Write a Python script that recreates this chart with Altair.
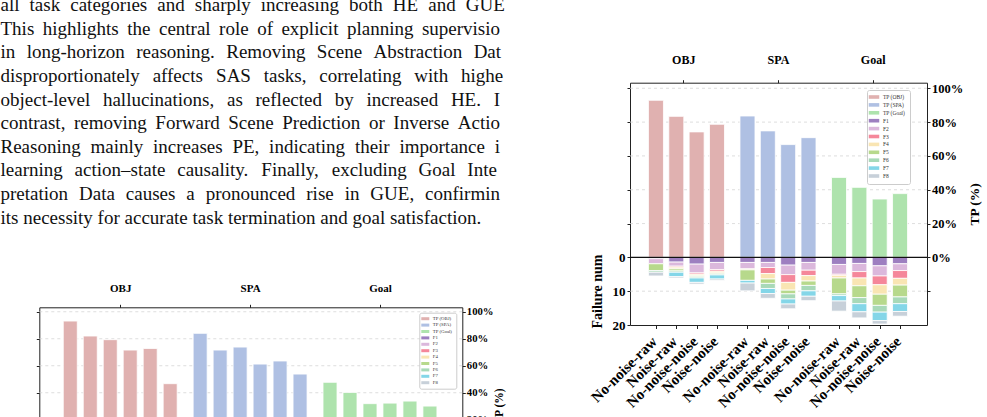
import altair as alt
import pandas as pd

# ---------------- data ----------------
para_lines = [
    "all task categories and sharply increasing both HE and GUE.",
    "This highlights the central role of explicit planning supervision",
    "in long-horizon reasoning. Removing Scene Abstraction Data",
    "disproportionately affects SAS tasks, correlating with higher",
    "object-level hallucinations, as reflected by increased HE. In",
    "contrast, removing Forward Scene Prediction or Inverse Action",
    "Reasoning mainly increases PE, indicating their importance in",
    "learning action\u2013state causality. Finally, excluding Goal Inter-",
    "pretation Data causes a pronounced rise in GUE, confirming",
    "its necessity for accurate task termination and goal satisfaction.",
]

groups = ["OBJ", "SPA", "Goal"]
conditions = ["No-noise-raw", "Noise-raw", "No-noise-noise", "Noise-noise"]
series = ["TP (OBJ)", "TP (SPA)", "TP (Goal)", "F1", "F2", "F3", "F4", "F5", "F6", "F7", "F8"]
series_colors = ["#e0b1b0", "#afc0e3", "#aee3ad", "#9d7fc0", "#dbb8dc", "#f5879a",
                 "#f9e5b3", "#b7d98c", "#a8d9b8", "#84d6e8", "#c7d0d9"]
fail_types = ["F1", "F2", "F3", "F4", "F5", "F6", "F7", "F8"]

# right figure: TP (%) per condition
tp_obj = [92.9, 83.4, 74.2, 78.7]
tp_spa = [83.6, 74.8, 66.7, 70.8]
tp_goal = [47.3, 41.4, 34.5, 37.7]
# right figure: failure counts F1..F8 per condition
fail_obj = [
    [0.4, 1.5, 0.0, 0.0, 2.0, 0.5, 0.0, 1.1],
    [1.4, 1.2, 0.3, 0.5, 0.6, 0.4, 1.3, 0.4],
    [2.0, 2.6, 0.4, 0.4, 0.35, 0.35, 1.3, 0.5],
    [1.5, 2.1, 0.5, 0.5, 0.3, 0.3, 1.2, 0.4],
]
fail_spa = [
    [1.5, 1.9, 0.0, 0.3, 3.1, 0.0, 0.8, 2.3],
    [1.5, 1.5, 1.8, 1.6, 1.3, 1.5, 1.5, 1.4],
    [2.3, 2.8, 2.3, 2.3, 1.1, 1.5, 1.5, 1.4],
    [1.5, 2.3, 1.6, 1.6, 1.3, 1.6, 1.6, 1.3],
]
fail_goal = [
    [2.1, 2.9, 0.3, 0.8, 4.7, 0.5, 1.6, 3.0],
    [1.8, 2.4, 1.9, 2.3, 3.5, 1.8, 2.4, 1.8],
    [2.5, 3.0, 2.6, 2.8, 3.3, 2.0, 2.5, 1.0],
    [1.9, 2.0, 2.3, 2.0, 3.5, 2.0, 2.3, 1.4],
]

# left (partially visible) figure: TP (%) of six settings per group
tp_obj_left = [93.1, 82.0, 79.3, 71.6, 72.8, 46.7]
tp_spa_left = [84.0, 71.6, 73.8, 61.2, 63.5, 53.8]
tp_goal_left = [47.7, 40.2, 31.9, 32.3, 33.8, 30.1]

tp_ticks = [100, 80, 60, 40, 20, 0]
fail_ticks = [0, 10, 20]

# ---------------- layout / style ----------------
W_ALL, H_ALL = 987, 417
SERIF = "Liberation Serif"
FAIL_SCALE = 2.0  # one failure = 2 TP-percent units on the shared vertical scale

# justified paragraph (Times metrics)
AFM = {' ': 250, 'a': 444, 'b': 500, 'c': 444, 'd': 500, 'e': 444, 'f': 333, 'g': 500, 'h': 500,
       'i': 278, 'j': 278, 'k': 500, 'l': 278, 'm': 778, 'n': 500, 'o': 500, 'p': 500, 'q': 500,
       'r': 333, 's': 389, 't': 278, 'u': 500, 'v': 500, 'w': 722, 'x': 500, 'y': 500, 'z': 444,
       'A': 722, 'B': 667, 'C': 667, 'D': 722, 'E': 611, 'F': 556, 'G': 722, 'H': 722, 'I': 333,
       'J': 389, 'K': 722, 'L': 611, 'M': 889, 'N': 722, 'O': 722, 'P': 556, 'Q': 722, 'R': 667,
       'S': 556, 'T': 611, 'U': 722, 'V': 722, 'W': 944, 'X': 722, 'Y': 722, 'Z': 611,
       '.': 250, ',': 250, '-': 333, '\u2013': 500, ':': 278, ';': 278, '(': 333, ')': 333}
FS = 19.0
X0, JW, CLIPX = 0.5, 509.0, 500.0


def cw(c):
    return AFM.get(c, 500) * FS / 1000.0


word_rows = []
for i, line in enumerate(para_lines):
    words = line.split(" ")
    widths = [sum(cw(c) for c in w) for w in words]
    if i == len(para_lines) - 1:
        gap = cw(' ')
    else:
        gap = (JW - sum(widths)) / (len(words) - 1)
    x = X0
    for w, wd in zip(words, widths):
        if x < CLIPX:
            s, cx = "", x
            for c in w:
                if cx + 0.5 * cw(c) > CLIPX:
                    break
                s += c
                cx += cw(c)
            if s:
                word_rows.append({"word": s, "px": x, "line": i})
        x += wd + gap
text_df = pd.DataFrame(word_rows)

text_layer = alt.Chart(text_df).mark_text(
    align="left", baseline="alphabetic", font=SERIF, fontSize=FS, color="#111111"
).encode(
    x=alt.X("px:Q", scale=alt.Scale(domain=[0, W_ALL], range=[0, W_ALL], nice=False, zero=False), axis=None),
    y=alt.Y("line:Q", scale=alt.Scale(domain=[0, 9], range=[11.2, 223.6], nice=False, zero=False), axis=None),
    text="word:N",
)

axis_style = dict(
    labelFont=SERIF, labelFontWeight="bold", labelColor="black",
    titleFont=SERIF, titleFontWeight="bold", titleColor="black",
    domainColor="#222222", tickColor="#222222", domainWidth=1, tickWidth=1, grid=False,
    labelOverlap=False,
)

# ---------------- right figure ----------------
R_X0, R_X1 = 630.0, 927.0
R_Y_TOP, R_Y_BOT = 82.7, 325.0
R_XDOM = [-1.03, 13.08]
R_YDOM = [-40.0, 103.3]
GROUP_STEP_R = 4.5

rx_scale = alt.Scale(domain=R_XDOM, range=[R_X0, R_X1], nice=False, zero=False)
ry_scale = alt.Scale(domain=R_YDOM, range=[R_Y_BOT, R_Y_TOP], nice=False, zero=False)

tp_right = {"OBJ": tp_obj, "SPA": tp_spa, "Goal": tp_goal}
fail_right = {"OBJ": fail_obj, "SPA": fail_spa, "Goal": fail_goal}
rows = []
pos_labels = {}
for g, grp in enumerate(groups):
    for j, cond in enumerate(conditions):
        pos = g * GROUP_STEP_R + j
        pos_labels[pos] = cond
        rows.append({"pos": pos, "y0": 0.0, "y1": tp_right[grp][j], "series": f"TP ({grp})"})
        cum = 0.0
        for k, ft in enumerate(fail_types):
            v = fail_right[grp][j][k]
            if v > 0:
                rows.append({"pos": pos, "y0": -FAIL_SCALE * cum, "y1": -FAIL_SCALE * (cum + v), "series": ft})
            cum += v
right_df = pd.DataFrame(rows)

bottom_expr = " : ".join(f"datum.value == {p} ? '{lab}'" for p, lab in pos_labels.items()) + " : ''"
group_centers_r = [g * GROUP_STEP_R + 1.5 for g in range(3)]
top_expr_r = " : ".join(f"datum.value == {p} ? '{lab}'" for p, lab in zip(group_centers_r, groups)) + " : ''"

left_vals = [v for v in tp_ticks if v > 0] + [-FAIL_SCALE * f for f in fail_ticks]

right_bars = alt.Chart(right_df).mark_bar(size=15, stroke="white", strokeWidth=0.8).encode(
    x=alt.X("pos:Q", scale=rx_scale, axis=alt.Axis(
        orient="bottom", offset=-(H_ALL - R_Y_BOT), values=list(pos_labels.keys()),
        labelExpr=bottom_expr, labelAngle=-45, labelAlign="right", labelBaseline="top",
        labelFontSize=15, tickSize=3.5, labelPadding=5, labelOffset=-7, title=None, **axis_style)),
    y=alt.Y("y0:Q", scale=ry_scale, axis=alt.Axis(
        orient="left", offset=-R_X0, values=left_vals,
        labelExpr=f"datum.value <= 0 ? format(-datum.value / {FAIL_SCALE}, 'd') : ''",
        labelFontSize=13, tickSize=3, labelPadding=2,
        title="Failure num", titleFontSize=14, titleY=291, titlePadding=8, **axis_style)),
    y2="y1:Q",
    color=alt.Color("series:N", scale=alt.Scale(domain=series, range=series_colors), legend=alt.Legend(
        title=None, orient="none", legendX=867, legendY=90, direction="vertical",
        symbolType="M-1.75,-0.6H1.75V0.6H-1.75Z", symbolSize=36, symbolStrokeWidth=0,
        labelFont=SERIF, labelFontSize=5.5, labelColor="#333333", labelOffset=6,
        rowPadding=0.9, padding=4, fillColor="white", strokeColor="#cccccc", cornerRadius=2)),
)

grid_r_vals = [v for v in tp_ticks if v > 0] + [-FAIL_SCALE * 10]
grid_r_df = pd.DataFrame({"gv": grid_r_vals})
right_grid = alt.Chart(grid_r_df).mark_rule(color="#d5d5d5", strokeWidth=0.8, strokeDash=[3, 3]).encode(
    x=alt.X(datum=R_XDOM[0], type="quantitative", scale=rx_scale, axis=None),
    x2=alt.X2(datum=R_XDOM[1]),
    y=alt.Y("gv:Q", scale=ry_scale, axis=alt.Axis(
        orient="right", offset=-(W_ALL - R_X1), values=tp_ticks + [-FAIL_SCALE * 10],
        labelExpr="datum.value >= 0 ? datum.value + '%' : ''",
        labelFontSize=12.5, tickSize=3, labelPadding=1.5,
        title="TP (%)", titleAngle=270, titleBaseline="top", titleFontSize=13.5, titlePadding=5,
        **axis_style)),
)

zero_df = pd.DataFrame({"zv": [0.0]})
right_zero = alt.Chart(zero_df).mark_rule(color="#111111", strokeWidth=1.4).encode(
    x=alt.X(datum=R_XDOM[0], type="quantitative", scale=rx_scale, axis=alt.Axis(
        orient="top", offset=-R_Y_TOP, values=group_centers_r, labelExpr=top_expr_r,
        labelFontSize=12, tickSize=3, labelPadding=13, title=None, **axis_style)),
    x2=alt.X2(datum=R_XDOM[1]),
    y=alt.Y("zv:Q", scale=ry_scale, axis=None),
)

# ---------------- left (cropped) figure ----------------
L_X0, L_X1 = 39.3, 462.3
L_Y_TOP, L_Y_ZERO = 307.3, 446.7
L_XDOM = [-1.3, 19.37]
L_YDOM = [0.0, 103.3]
GROUP_STEP_L = 6.5

lx_scale = alt.Scale(domain=L_XDOM, range=[L_X0, L_X1], nice=False, zero=False)
ly_scale = alt.Scale(domain=L_YDOM, range=[L_Y_ZERO, L_Y_TOP], nice=False, zero=False)

tp_left = {"OBJ": tp_obj_left, "SPA": tp_spa_left, "Goal": tp_goal_left}
lrows = []
for g, grp in enumerate(groups):
    for j, v in enumerate(tp_left[grp]):
        lrows.append({"pos": g * GROUP_STEP_L + j, "y0": 0.0, "y1": v, "series": f"TP ({grp})"})
left_df = pd.DataFrame(lrows)
group_centers_l = [g * GROUP_STEP_L + 2.5 for g in range(3)]
top_expr_l = " : ".join(f"datum.value == {p} ? '{lab}'" for p, lab in zip(group_centers_l, groups)) + " : ''"

left_bars = alt.Chart(left_df).mark_bar(size=14, stroke="white", strokeWidth=0.8).encode(
    x=alt.X("pos:Q", scale=lx_scale, axis=alt.Axis(
        orient="top", offset=-L_Y_TOP, values=group_centers_l, labelExpr=top_expr_l,
        labelFontSize=11, tickSize=3, labelPadding=10.5, title=None, **axis_style)),
    y=alt.Y("y0:Q", scale=ly_scale, axis=alt.Axis(
        orient="left", offset=-L_X0, values=tp_ticks, labels=False, tickSize=3, title=None, **axis_style)),
    y2="y1:Q",
    color=alt.Color("series:N", scale=alt.Scale(domain=series, range=series_colors), legend=alt.Legend(
        title=None, orient="none", legendX=419.3, legendY=312.7, direction="vertical",
        symbolType="M-1.6,-0.6H1.6V0.6H-1.6Z", symbolSize=25, symbolStrokeWidth=0,
        labelFont=SERIF, labelFontSize=4.8, labelColor="#333333", labelOffset=5,
        rowPadding=0.4, padding=3.5, fillColor="white", strokeColor="#cccccc", cornerRadius=2)),
)

grid_l_df = pd.DataFrame({"gv": [v for v in tp_ticks if v > 0]})
left_grid = alt.Chart(grid_l_df).mark_rule(color="#d5d5d5", strokeWidth=0.8, strokeDash=[3, 3]).encode(
    x=alt.X(datum=L_XDOM[0], type="quantitative", scale=lx_scale, axis=None),
    x2=alt.X2(datum=L_XDOM[1]),
    y=alt.Y("gv:Q", scale=ly_scale, axis=alt.Axis(
        orient="right", offset=-(W_ALL - L_X1), values=tp_ticks,
        labelExpr="datum.value + '%'", labelFontSize=10.7, tickSize=3, labelPadding=1,
        title="TP (%)", titleAngle=270, titleBaseline="top", titleFontSize=11.5, titlePadding=0,
        titleY=406, **axis_style)),
)

chart = alt.layer(
    text_layer, left_grid, left_bars, right_grid, right_bars, right_zero
).resolve_scale(
    x="independent", y="independent", color="independent"
).resolve_axis(
    x="independent", y="independent"
).resolve_legend(
    color="independent"
).properties(
    width=W_ALL, height=H_ALL, padding=0, autosize=alt.AutoSizeParams(type="none"),
    background="white",
).configure_view(stroke=None)

chart.save("out.html", embed_options={"renderer": "svg", "actions": False})
